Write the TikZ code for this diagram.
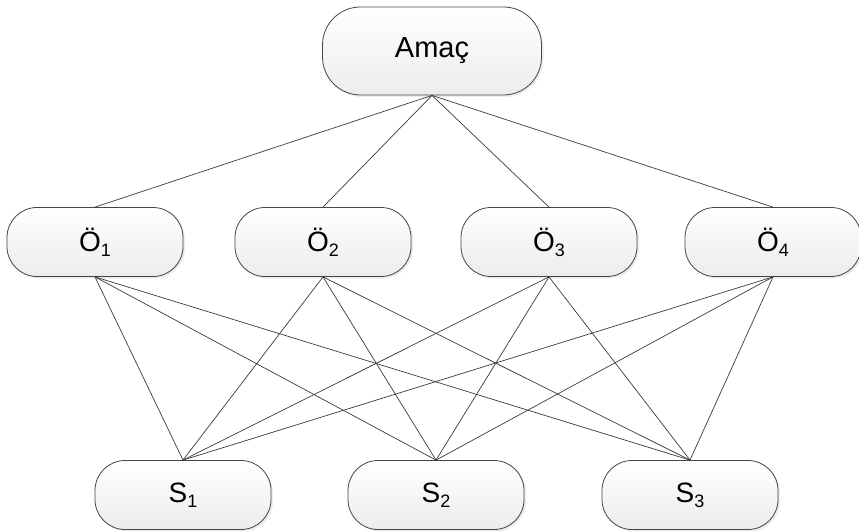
\documentclass[tikz,border=0pt]{standalone}
\usepackage{fontspec}
\setmainfont{Liberation Sans}
\usetikzlibrary{shadows}

\definecolor{cizgi}{HTML}{3A3A3A}
\definecolor{kenar}{HTML}{454545}
\definecolor{alt}{HTML}{ECECEC}

% letter with a lowered index, e.g. O_1
\newcommand{\indis}[2]{#1\raisebox{-5pt}{\fontsize{18}{18}\selectfont #2}}

\tikzset{
	kutu/.style={draw=kenar, line width=0.8pt, rounded corners=30pt,
		top color=white, bottom color=alt, inner sep=0pt,
		minimum width=176pt, minimum height=69pt,
		font=\fontsize{28}{32}\selectfont,
		drop shadow={shadow xshift=2pt, shadow yshift=-2pt, opacity=0.15}},
	amackutu/.style={kutu, rounded corners=38pt,
		minimum width=219pt, minimum height=88pt,
		font=\fontsize{29}{33}\selectfont},
	bag/.style={draw=cizgi, line width=0.7pt}
}

\begin{document}
\begin{tikzpicture}[x=1pt, y=-1pt]
	% Bounding box dimensions
	\useasboundingbox (0,0) rectangle (859,532);
	
	% Goal
	\node[amackutu] (amac) at (432,51) {Amaç};
	
	% Criteria
	\node[kutu] (o1) at (95,242) {\indis{Ö}{1}};
	\node[kutu] (o2) at (323,242) {\indis{Ö}{2}};
	\node[kutu] (o3) at (549,242) {\indis{Ö}{3}};
	\node[kutu] (o4) at (773,242) {\indis{Ö}{4}};
	
	% Alternatives
	\node[kutu] (s1) at (183,495) {\indis{S}{1}};
	\node[kutu] (s2) at (436,495) {\indis{S}{2}};
	\node[kutu] (s3) at (690,495) {\indis{S}{3}};
	
	% Goal to criteria
	\foreach \i in {1,...,4}
	\draw[bag] (amac.south) -- (o\i.north);
	
	% Criteria to alternatives
	\foreach \i in {1,...,4}
	\foreach \j in {1,2,3}
	\draw[bag] (o\i.south) -- (s\j.north);
\end{tikzpicture}
\end{document}
